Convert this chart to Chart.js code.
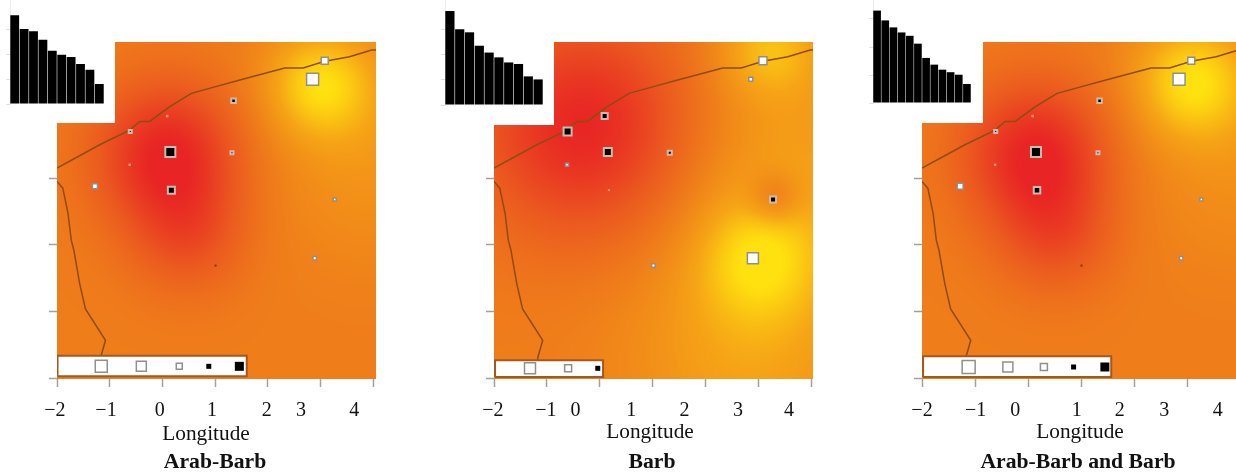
<!DOCTYPE html>
<html>
<head>
<meta charset="utf-8">
<script src="https://cdn.jsdelivr.net/npm/chart.js@4/dist/chart.umd.js"></script>
<style>
    html, body { margin: 0; background: #fff; overflow: hidden; width: 1236px; height: 473px; }
    canvas { position: absolute; top: 0; filter: blur(0.6px); }
    .caption {
        position: absolute;
        transform: translate(-50%, -50%);
        font: 21.3px "Liberation Serif", serif;
        color: #111;
        white-space: nowrap;
    }
    .caption.name { font-weight: bold; font-size: 21.7px; }
</style>
</head>
<body>
<script>
// ─── Data ──────────────────────────────────

const tickLabels = ['−2', '−1', '0', '1', '2', '3', '4'];
const lonTicks   = [-2, -1, 0, 1, 2, 3, 4];
const latTicks   = [32, 33, 34, 35];

const coastLon = [-2.0, -1.19, -0.62, -0.43, -0.24, 0.14, 0.55, 0.96, 1.47, 2.32, 2.67, 3.08, 3.55, 3.97, 4.08];
const coastLat = [35.15, 35.5, 35.72, 35.85, 35.85, 36.07, 36.27, 36.36, 36.47, 36.65, 36.65, 36.75, 36.82, 36.92, 36.92];

const borderLon = [-2.0, -1.89, -1.79, -1.73, -1.68, -1.57, -1.46, -1.08, -1.17, -1.2];
const borderLat = [34.95, 34.85, 34.47, 34.07, 33.92, 33.42, 33.04, 32.57, 32.32, 32.1];

const stationLon = [3.08, 2.85, 1.35, 0.09, -0.61, 0.15, 1.32, -0.62, -1.28, 0.17, 3.27, 1.01, 2.89];
const stationLat = [36.76, 36.48, 36.16, 35.93, 35.70, 35.39, 35.38, 35.20, 34.88, 34.82, 34.68, 33.69, 33.80];

// signed local statistic per station: negative = white square, positive = black
const arabBarbValues = [-7, -12, 4.5, -2.5, 3, 10, 3, -2.5, -5, 7, -3, 2, -3.5];
const barbValues     = [-8, -4, null, 6, 8, 8, 4, -3, null, -2, 6, -3.5, -11];
const bothValues     = [-7, -12, 4.5, -2.5, 3, 10, 3, -2.5, -6, 6.5, -3, 2, -3.5];

const arabBarbBars = [3.55, 3.0, 2.91, 2.57, 2.13, 1.97, 1.88, 1.6, 1.37, 0.8];
const barbBars     = [3.71, 2.99, 2.87, 2.34, 2.07, 1.88, 1.68, 1.62, 1.13, 1.01];
const bothBars     = [3.3, 2.95, 2.7, 2.52, 2.4, 2.12, 1.61, 1.37, 1.19, 1.1, 1.01, 0.68];

const arabBarbLabelAt = [-2.04, -1.07, -0.05, 0.94, 1.98, 2.63, 3.64];
const barbLabelAt     = [-2.02, -1.02, -0.46, 0.59, 1.6, 2.61, 3.57];
const bothLabelAt     = [-2.0, -0.99, -0.24, 0.92, 1.73, 2.57, 3.58];

const arabBarbLegendLon = [-1.16, -0.4, 0.32, 0.88, 1.46];
const barbLegendLon     = [-1.32, -0.6, -0.04];
const bothLegendLon     = [-1.12, -0.38, 0.3, 0.86, 1.45];

const arabBarbLegendValues = [-12, -10, -6, 5, 9];
const barbLegendValues     = [-11, -7, 5];
const bothLegendValues     = [-13, -10, -7, 5, 9];

// heat field: [lon, lat, spread in degrees, strength]
const arabBarbHeat = [[0.1, 35.35, 1.0, -1.0], [0.5, 34.1, 0.8, -0.45], [3.0, 36.4, 0.7, 0.85], [4.0, 35.4, 1.4, 0.3]];
const barbHeat     = [[-0.25, 35.75, 1.5, -1.0], [3.0, 33.78, 0.8, 0.65], [3.2, 36.95, 0.65, 0.6], [3.3, 34.7, 0.35, -0.5], [3.6, 35.2, 1.7, 0.4], [2.8, 32.4, 1.6, 0.45]];
const bothHeat     = [[0.15, 35.35, 1.0, -1.0], [0.55, 34.1, 0.8, -0.45], [3.1, 36.45, 0.75, 0.9], [4.0, 35.4, 1.4, 0.25]];

const heatStops = [
    [-1.0, 232, 36, 36],
    [-0.5, 235, 85, 32],
    [ 0.0, 239, 125, 26],
    [ 0.5, 246, 165, 22],
    [ 1.0, 255, 225, 15]
];

// ─── Layout ────────────────────────────────

const AREA_TOP = 42, AREA_BOTTOM = 379, PAD_X = 30, Y_AXIS_W = 8, X_AXIS_H = 8, LABEL_AXIS_H = 36;
const LAT_MIN = 31.99, LAT_MAX = 37.04;

const panels = [
    { name: 'Arab-Barb', values: arabBarbValues, bars: arabBarbBars, labelAt: arabBarbLabelAt, heat: arabBarbHeat,
      legendLon: arabBarbLegendLon, legendValues: arabBarbLegendValues, legendBox: [-1.99, 1.6, 32.03, 32.34], legendLat: 32.18,
      left: 57, right: 376, lonMax: 4.053, cutLon: -0.9, cutLat: 35.83,
      xLongitude: 206, yLongitude: 433, xName: 215,
      inset: { left: 10, right: 104, base: 104, perUnit: 25 } },
    { name: 'Barb', values: barbValues, bars: barbBars, labelAt: barbLabelAt, heat: barbHeat,
      legendLon: barbLegendLon, legendValues: barbLegendValues, legendBox: [-1.98, 0.06, 32.02, 32.27], legendLat: 32.15,
      left: 494, right: 813, lonMax: 4.025, cutLon: -0.87, cutLat: 35.8,
      xLongitude: 650, yLongitude: 431, xName: 652,
      inset: { left: 445, right: 543, base: 105, perUnit: 25.33 } },
    { name: 'Arab-Barb and Barb', values: bothValues, bars: bothBars, labelAt: bothLabelAt, heat: bothHeat,
      legendLon: bothLegendLon, legendValues: bothLegendValues, legendBox: [-1.98, 1.57, 32.02, 32.33], legendLat: 32.17,
      left: 922, right: 1244, lonMax: 4.075, cutLon: -0.855, cutLat: 35.83,
      xLongitude: 1080, yLongitude: 431, xName: 1078,
      inset: { left: 873, right: 971, base: 103, perUnit: 28 } }
];

// ─── Helpers ───────────────────────────────

function addCanvas(left, width, height) {
    const canvas = document.createElement('canvas');
    canvas.width = width;
    canvas.height = height;
    canvas.style.left = left + 'px';
    canvas.style.width = width + 'px';
    canvas.style.height = height + 'px';
    document.body.appendChild(canvas);
    return canvas;
}

function addCaption(text, x, y, cls) {
    const div = document.createElement('div');
    div.className = cls;
    div.textContent = text;
    div.style.left = x + 'px';
    div.style.top = y + 'px';
    document.body.appendChild(div);
}

function heatColor(t) {
    t = Math.max(-1, Math.min(1, t));
    for (let i = 1; i < heatStops.length; i++) {
        const a = heatStops[i - 1], b = heatStops[i];
        if (t <= b[0]) {
            const f = (t - a[0]) / (b[0] - a[0]);
            return [a[1] + (b[1] - a[1]) * f, a[2] + (b[2] - a[2]) * f, a[3] + (b[3] - a[3]) * f];
        }
    }
    return heatStops[heatStops.length - 1].slice(1);
}

// paints the L-shaped map behind the datasets
const heatPlugin = {
    id: 'heat',
    beforeDatasetsDraw(chart, args, opts) {
        const xs = chart.scales.x, ys = chart.scales.y, area = chart.chartArea;
        const w = Math.round(area.right - area.left), h = Math.round(area.bottom - area.top);
        const kernels = opts.kernels.map(k => ({
            px: xs.getPixelForValue(k[0]),
            py: ys.getPixelForValue(k[1]),
            s: k[2] * (xs.getPixelForValue(1) - xs.getPixelForValue(0)),
            v: k[3]
        }));
        const cutX = xs.getPixelForValue(opts.cutLon), cutY = ys.getPixelForValue(opts.cutLat);

        const off = document.createElement('canvas');
        off.width = w;
        off.height = h;
        const octx = off.getContext('2d');
        const img = octx.createImageData(w, h);
        for (let j = 0; j < h; j++) {
            for (let i = 0; i < w; i++) {
                const px = area.left + i + 0.5, py = area.top + j + 0.5;
                if (px < cutX && py < cutY) continue;
                let t = 0;
                kernels.forEach(k => {
                    const dx = px - k.px, dy = py - k.py;
                    t += k.v * Math.exp(-(dx * dx + dy * dy) / (2 * k.s * k.s));
                });
                const c = heatColor(t), o = (j * w + i) * 4;
                img.data[o] = c[0];
                img.data[o + 1] = c[1];
                img.data[o + 2] = c[2];
                img.data[o + 3] = 255;
            }
        }
        octx.putImageData(img, 0, 0);
        chart.ctx.drawImage(off, area.left, area.top);
    }
};

function markerStyle(values, onWhite) {
    return {
        pointStyle: 'rect',
        pointRadius: values.map(v => Math.abs(v) / Math.SQRT2),
        pointBackgroundColor: values.map(v => {
            const shade = v < 0 ? '255,255,255' : '0,0,0';
            return `rgba(${shade},${Math.abs(v) < 3 ? 0.45 : 1})`;
        }),
        pointBorderColor: values.map(v => v < 0 ? '#8f8f8f' : '#c8bcb0'),
        pointBorderWidth: values.map(v => {
            if (Math.abs(v) < 3 || (onWhite && v > 0)) return 0;
            return v < 0 ? 1.5 : 2;
        })
    };
}

// ─── Charts ────────────────────────────────

panels.forEach(p => {
    const width  = p.right - p.left + Y_AXIS_W + PAD_X * 2;
    const height = AREA_BOTTOM + X_AXIS_H + LABEL_AXIS_H;
    const canvas = addCanvas(p.left - Y_AXIS_W - PAD_X, width, height);

    const stations = [];
    p.values.forEach((v, i) => {
        if (v !== null) stations.push({ x: stationLon[i], y: stationLat[i], v });
    });
    const box = p.legendBox;

    new Chart(canvas, {
        type: 'line',
        data: {
            datasets: [
                {
                    label: 'Stations',
                    data: stations.map(s => ({ x: s.x, y: s.y })),
                    showLine: false,
                    ...markerStyle(stations.map(s => s.v), false)
                },
                {
                    label: 'Legend symbols',
                    data: p.legendLon.map(x => ({ x, y: p.legendLat })),
                    showLine: false,
                    ...markerStyle(p.legendValues, true)
                },
                {
                    label: 'Legend box',
                    data: [
                        { x: box[0], y: box[2] }, { x: box[1], y: box[2] }, { x: box[1], y: box[3] },
                        { x: box[0], y: box[3] }, { x: box[0], y: box[2] }
                    ],
                    borderColor: '#a5581c',
                    borderWidth: 2,
                    backgroundColor: '#fff',
                    fill: 'shape',
                    pointRadius: 0
                },
                {
                    label: 'Coast',
                    data: coastLon.map((x, i) => ({ x, y: coastLat[i] })),
                    borderColor: '#8f4c12',
                    borderWidth: 1.5,
                    pointRadius: 0
                },
                {
                    label: 'Border',
                    data: borderLon.map((x, i) => ({ x, y: borderLat[i] })),
                    borderColor: '#8f4c12',
                    borderWidth: 1.5,
                    pointRadius: 0
                }
            ]
        },
        options: {
            responsive: false,
            animation: false,
            layout: { padding: { top: AREA_TOP, left: PAD_X, right: PAD_X, bottom: 0 } },
            plugins: {
                legend: { display: false },
                tooltip: { enabled: false },
                heat: { kernels: p.heat, cutLon: p.cutLon, cutLat: p.cutLat }
            },
            scales: {
                x: {
                    type: 'linear',
                    position: 'bottom',
                    weight: 0,
                    min: -2,
                    max: p.lonMax,
                    afterBuildTicks: axis => { axis.ticks = lonTicks.map(value => ({ value })); },
                    afterFit: axis => { axis.height = X_AXIS_H; },
                    ticks: { display: false },
                    border: { display: false },
                    grid: { drawOnChartArea: false, tickLength: X_AXIS_H, tickColor: '#a0a0a0', tickWidth: 1.5 }
                },
                xLabels: {
                    type: 'linear',
                    axis: 'x',
                    position: 'bottom',
                    weight: 1,
                    min: -2,
                    max: p.lonMax,
                    afterBuildTicks: axis => { axis.ticks = p.labelAt.map(value => ({ value })); },
                    afterFit: axis => { axis.height = LABEL_AXIS_H; },
                    border: { display: false },
                    grid: { display: false },
                    ticks: {
                        autoSkip: false,
                        maxRotation: 0,
                        minRotation: 0,
                        padding: 4,
                        color: '#111',
                        font: { family: '"Liberation Serif", serif', size: 20 },
                        callback: (value, index) => tickLabels[index]
                    }
                },
                y: {
                    type: 'linear',
                    min: LAT_MIN,
                    max: LAT_MAX,
                    afterBuildTicks: axis => { axis.ticks = latTicks.map(value => ({ value })); },
                    afterFit: axis => { axis.width = Y_AXIS_W; },
                    ticks: { display: false },
                    border: { display: false },
                    grid: { drawOnChartArea: false, tickLength: Y_AXIS_W, tickColor: '#a0a0a0', tickWidth: 1.5 }
                }
            }
        },
        plugins: [heatPlugin]
    });

    // ranked bars in the cut-out corner
    const inset = p.inset;
    const tickW = 4;
    const insetCanvas = addCanvas(inset.left - tickW, inset.right - inset.left + tickW, inset.base + 1);
    new Chart(insetCanvas, {
        type: 'bar',
        data: {
            labels: p.bars.map((v, i) => i + 1),
            datasets: [{ data: p.bars, backgroundColor: '#000', barPercentage: 0.94, categoryPercentage: 1 }]
        },
        options: {
            responsive: false,
            animation: false,
            layout: { padding: { top: 0, bottom: 1 } },
            plugins: { legend: { display: false }, tooltip: { enabled: false } },
            scales: {
                x: { display: false },
                y: {
                    min: 0,
                    max: inset.base / inset.perUnit,
                    afterBuildTicks: axis => { axis.ticks = [0, 1, 2, 3].map(value => ({ value })); },
                    afterFit: axis => { axis.width = tickW; },
                    ticks: { display: false },
                    border: { color: '#ececec' },
                    grid: { drawOnChartArea: false, tickLength: tickW, tickColor: '#e0e0e0' }
                }
            }
        }
    });

    addCaption('Longitude', p.xLongitude, p.yLongitude, 'caption');
    addCaption(p.name, p.xName, 461, 'caption name');
});
</script>
</body>
</html>
